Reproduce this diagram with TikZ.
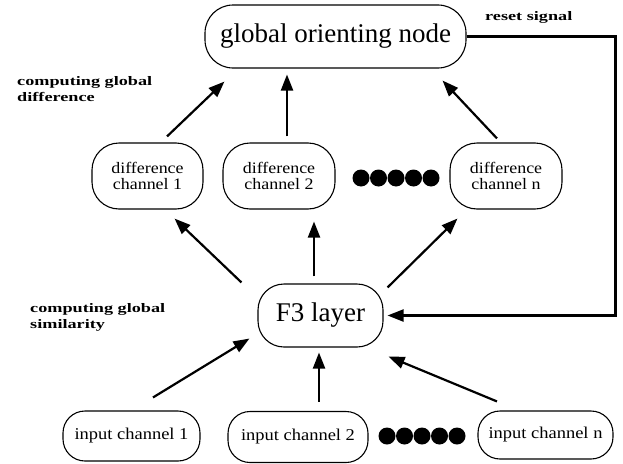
\documentclass[tikz,border=0pt]{standalone}
\usepackage{fontspec}
\setmainfont{Liberation Serif}
\newfontfamily\chfont{Liberation Serif}[FakeStretch=1.12]
\newfontfamily\labfont{Liberation Serif}[FakeStretch=1.4]
\usetikzlibrary{arrows.meta}

\begin{document}
\begin{tikzpicture}[x=1pt, y=-1pt,
    box/.style={draw, line width=1.1pt, rounded corners=22pt, inner sep=0pt, align=center},
    arr/.style={line width=2.2pt, -{Triangle[length=16pt,width=12pt]}},
    lab/.style={anchor=north west, inner sep=0pt, align=left, font=\labfont\bfseries\fontsize{13}{16}\selectfont}]
    \useasboundingbox (0,0) rectangle (623,463);

    \node [box, rounded corners=28pt, minimum width=261pt, minimum height=63pt, font=\fontsize{27}{30}\selectfont] (glob) at (335.5,36.5) {global orienting node};

    \node [box, rounded corners=27pt, minimum width=111pt, minimum height=66pt, font=\chfont\fontsize{16}{16}\selectfont] (diff1) at (147.5,176) {difference\\channel 1};
    \node [box, rounded corners=27pt, minimum width=112pt, minimum height=66pt, font=\chfont\fontsize{16}{16}\selectfont] (diff2) at (279,176) {difference\\channel 2};
    \node [box, rounded corners=27pt, minimum width=112pt, minimum height=66pt, font=\chfont\fontsize{16}{16}\selectfont] (diffn) at (506,176) {difference\\channel n};

    \node [box, rounded corners=26pt, minimum width=125pt, minimum height=63pt, font=\fontsize{27}{30}\selectfont] (F3) at (320.5,315.5) {F3 layer};

    \node [box, minimum width=137pt, minimum height=50pt, font=\chfont\fontsize{16.5}{18}\selectfont] (in1) at (131.5,436) {input channel 1};
    \node [box, minimum width=140pt, minimum height=51pt, font=\chfont\fontsize{16.5}{18}\selectfont] (in2) at (298,437) {input channel 2};
    \node [box, minimum width=135pt, minimum height=48pt, font=\chfont\fontsize{16.5}{18}\selectfont] (inn) at (545.5,435) {input channel n};

    \foreach \i in {0,...,4} {
        \fill (361+17.5*\i,178) circle (8.5pt);
        \fill (387+17.5*\i,436) circle (8.5pt);
    }

    \node [lab] (simlab) at (30,303) {computing global\\similarity};
    \node [lab] (difflab) at (17,76) {computing global\\difference};
    \node [lab, anchor=base west] (resetlab) at (485,20) {reset signal};

    \draw [arr] ([shift={(21.5,-13)}]in1.north) -- ([shift={(-8,-9)}]F3.south west);
    \draw [arr] ([shift={(21,-9)}]in2.north) -- ([shift={(-1.5,5)}]F3.south);
    \draw [arr] ([shift={(-48.5,-9)}]inn.north) -- ([shift={(5,9)}]F3.south east);

    \draw [arr] ([shift={(-16,-1)}]F3.north west) -- ([shift={(-29,9)}]diff1.south east);
    \draw [arr] ([shift={(-6.5,-7)}]F3.north) -- ([shift={(35,12)}]diff2.south);
    \draw [arr] ([shift={(4,4)}]F3.north east) -- ([shift={(8,9)}]diffn.south west);

    \draw [arr] ([shift={(19.5,-6)}]diff1.north) -- ([shift={(20,13)}]glob.south west);
    \draw [arr] ([shift={(8,-6)}]diff2.north) -- ([shift={(-48.5,6)}]glob.south);
    \draw [arr] ([shift={(-9,-4)}]diffn.north) -- ([shift={(-24,12)}]glob.south east);

    \draw [arr, shorten >=4pt] (glob.east) -- ++(149,0) |- (F3.east);

\end{tikzpicture}
\end{document}
